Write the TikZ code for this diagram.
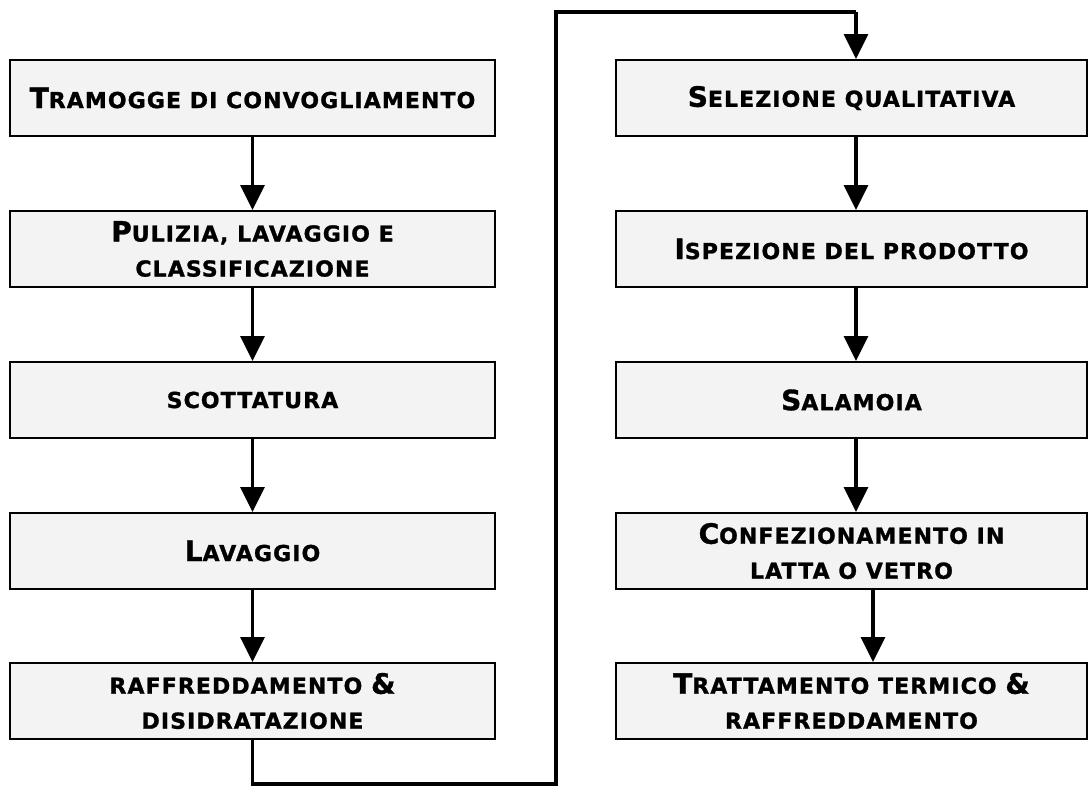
\documentclass[tikz,border=0pt]{standalone}
\usepackage{fontspec}
\setmainfont{DejaVu Sans}[LetterSpace=5, BoldFeatures={FakeBold=1.2}]
\usetikzlibrary{arrows.meta,calc}
\newcommand\BC[1]{{\fontsize{28}{35}\selectfont #1}}
\definecolor{boxfill}{HTML}{F3F3F3}
\tikzset{
  stepbox/.style={draw=black, line width=2pt, fill=boxfill, minimum height=76pt, inner sep=0pt,
    align=center, font=\fontsize{22}{35}\selectfont\bfseries},
  lbox/.style={stepbox, minimum width=485pt},
  rbox/.style={stepbox, minimum width=471pt},
  arr/.style={line width=3.5pt, -{Triangle[width=24pt,length=25pt]}},
  conn/.style={line width=3.5pt}
}
\begin{document}
\begin{tikzpicture}[x=1pt,y=-1pt]
\useasboundingbox (0,0) rectangle (1089,787);
\node[lbox] (l1) at (252.5,98) {\BC{T}RAMOGGE DI CONVOGLIAMENTO};
\node[lbox] (l2) at (252.5,249) {\BC{P}ULIZIA, LAVAGGIO E\\CLASSIFICAZIONE};
\node[lbox] (l3) at (252.5,400) {SCOTTATURA};
\node[lbox] (l4) at (252.5,551) {\BC{L}AVAGGIO};
\node[lbox] (l5) at (252.5,701) {RAFFREDDAMENTO \BC{\&}\\DISIDRATAZIONE};
\node[rbox] (r1) at (851.5,98) {\BC{S}ELEZIONE QUALITATIVA};
\node[rbox] (r2) at (851.5,249) {\BC{I}SPEZIONE DEL PRODOTTO};
\node[rbox] (r3) at (851.5,400) {\BC{S}ALAMOIA};
\node[rbox] (r4) at (851.5,551) {\BC{C}ONFEZIONAMENTO IN\\LATTA O VETRO};
\node[rbox] (r5) at (851.5,701) {\BC{T}RATTAMENTO TERMICO \BC{\&}\\RAFFREDDAMENTO};
\coordinate (rx) at (856,0);
\coordinate (rx2) at (873,0);
\coordinate (b1) at (252.5,784);
\coordinate (b2) at (556,784);
\coordinate (t1) at (556,12);
\coordinate (t2) at (856,12);
\draw[arr] (l1) -- (l2);
\draw[arr] (l2) -- (l3);
\draw[arr] (l3) -- (l4);
\draw[arr] (l4) -- (l5);
\draw[arr] (r1.south -| rx) -- (r2.north -| rx);
\draw[arr] (r2.south -| rx) -- (r3.north -| rx);
\draw[arr] (r3.south -| rx) -- (r4.north -| rx);
\draw[arr] (r4.south -| rx2) -- (r5.north -| rx2);
\draw[conn, line join=miter] (l5.south) -- (b1) -- (b2) -- (t1) -- (t2);
\draw[arr] (t2) -- (r1.north -| t2);
\end{tikzpicture}
\end{document}
